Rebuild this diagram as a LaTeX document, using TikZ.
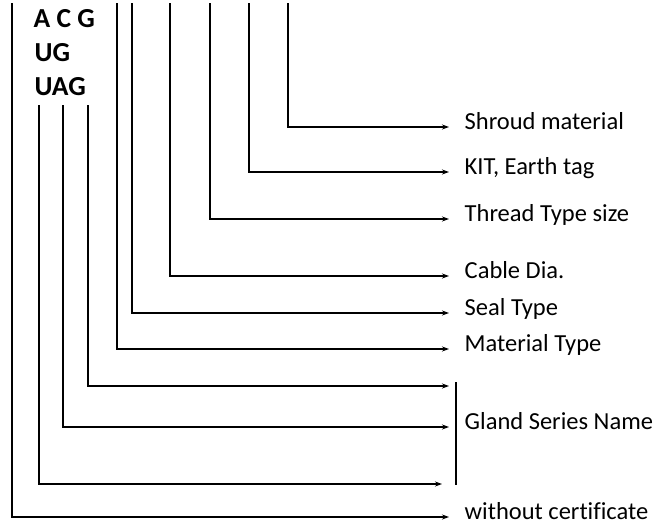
\documentclass[tikz,border=0pt]{standalone}
\usepackage{fontspec}
\setmainfont[Ligatures=NoCommon]{Carlito}
\usetikzlibrary{arrows.meta}
\tikzset{
  every node/.style = {font = \fontsize{24.5}{28}\selectfont, inner sep=0pt}
}
\tikzset{
    >={Stealth[length=7pt,width=5pt]}
}
\tikzset{
  code/.style = {font = \fontsize{27.5}{30}\selectfont\bfseries, anchor=base west},
  lbl/.style = {anchor=west, text height=1.6ex, text depth=.4ex}
}

\begin{document}
\begin{tikzpicture}[x=1pt,y=-1pt,line width=1.4pt]
\def\ytop{3}
\def\ylow{105}
\def\xtip{449}
\def\xtxt{464}

\useasboundingbox (0,0) rectangle (669,531);

% The codes
\node[code] (acg) at (33,27) {A C G};
\node[code] (ug)  at (34,61) {UG};
\node[code] (uag) at (34,95) {UAG};

% Start of the lines
\coordinate (cert)   at (12,\ytop);
\coordinate (mat)    at (117,\ytop);
\coordinate (seal)   at (132,\ytop);
\coordinate (cable)  at (170,\ytop);
\coordinate (thread) at (210,\ytop);
\coordinate (kit)    at (249,\ytop);
\coordinate (shroud) at (288,\ytop);
\coordinate (gA) at (88,\ylow);
\coordinate (gB) at (63,\ylow);
\coordinate (gC) at (39,\ylow);

% Arrow tips
\coordinate (shroudtip) at (\xtip,127);
\coordinate (kittip)    at (\xtip,172);
\coordinate (threadtip) at (\xtip,219);
\coordinate (cabletip)  at (\xtip,276);
\coordinate (sealtip)   at (\xtip,313);
\coordinate (mattip)    at (\xtip,349);
\coordinate (gAtip)     at (\xtip,386);
\coordinate (gBtip)     at (\xtip,427);
\coordinate (gCtip)     at (442,484);
\coordinate (certtip)   at (\xtip,517);

% The labels
\node[lbl] (shroudlbl) at (\xtxt,127) {Shroud material};
\node[lbl] (kitlbl)    at (\xtxt,172) {KIT, Earth tag};
\node[lbl] (threadlbl) at (\xtxt,219) {Thread Type size};
\node[lbl] (cablelbl)  at (\xtxt,276) {Cable Dia.};
\node[lbl] (seallbl)   at (\xtxt,313) {Seal Type};
\node[lbl] (matlbl)    at (\xtxt,349) {Material Type};
\node[lbl] (glandlbl)  at (\xtxt,427) {Gland Series Name};
\node[lbl] (certlbl)   at (\xtxt,517) {without certificate};

% The connectors
\draw[->] (shroud) |- (shroudtip);
\draw[->] (kit) |- (kittip);
\draw[->] (thread) |- (threadtip);
\draw[->] (cable) |- (cabletip);
\draw[->] (seal) |- (sealtip);
\draw[->] (mat) |- (mattip);
\draw[->] (gA) |- (gAtip);
\draw[->] (gB) |- (gBtip);
\draw[->] (gC) |- (gCtip);
\draw[->] (cert) |- (certtip);

% The bracket
\coordinate (bartop) at (456,382);
\coordinate (barbot) at (456,485);
\draw[line width=2pt] (bartop) -- (barbot);
\end{tikzpicture}
\end{document}
